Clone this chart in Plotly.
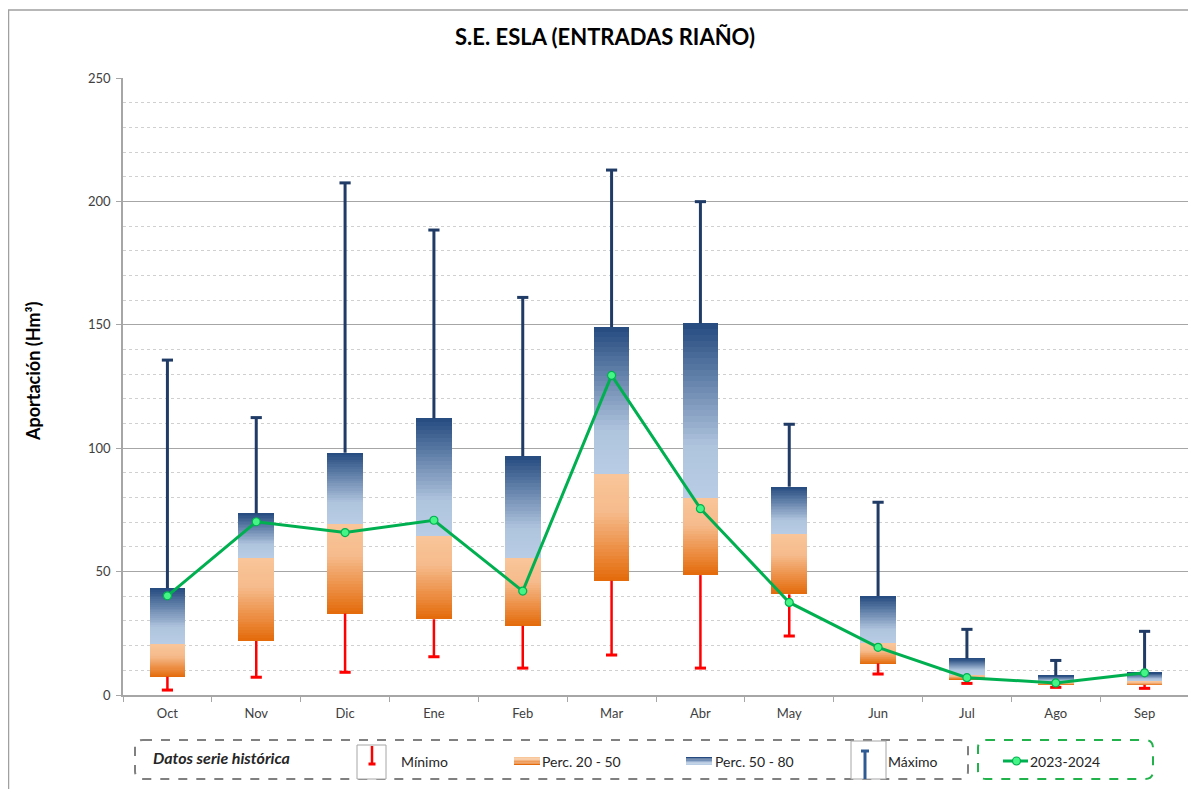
import plotly.graph_objects as go

# ---------------- data ----------------
months = ['Oct', 'Nov', 'Dic', 'Ene', 'Feb', 'Mar', 'Abr', 'May', 'Jun', 'Jul', 'Ago', 'Sep']
minimo = [2.0, 7.2, 9.2, 15.5, 10.9, 16.2, 10.9, 23.9, 8.5, 4.7, 3.1, 2.7]
perc20 = [7.4, 21.9, 33.0, 30.7, 28.0, 46.3, 48.6, 40.8, 12.8, 6.4, 4.3, 4.1]
perc50 = [20.7, 55.6, 69.4, 64.6, 55.4, 89.5, 80.0, 65.2, 20.9, 8.5, 5.3, 5.7]
perc80 = [43.3, 73.6, 98.2, 112.1, 96.8, 149.1, 150.6, 84.4, 40.1, 14.8, 7.8, 9.0]
maximo = [135.7, 112.4, 207.5, 188.4, 161.1, 212.7, 199.9, 109.7, 78.1, 26.6, 14.0, 25.8]
actual = [40.2, 70.2, 65.8, 70.8, 42.1, 129.5, 75.5, 37.5, 19.3, 7.0, 4.9, 9.0]

y_ticks = [0, 50, 100, 150, 200, 250]
title_text = 'S.E. ESLA (ENTRADAS RIAÑO)'
y_title = 'Aportación (Hm³)'

FONT = 'Lato'
OFF = 8  # page body margin
W, H = 1196 - OFF, 789 - OFF
L, R, T, B = 123, 1189, 78, 695  # plot area in screen pixels


def hex2rgb(h):
    h = h.lstrip('#')
    return tuple(int(h[i:i + 2], 16) for i in (0, 2, 4))


def grad(stops, t):
    for (t0, c0), (t1, c1) in zip(stops[:-1], stops[1:]):
        if t0 <= t <= t1:
            f = (t - t0) / (t1 - t0) if t1 > t0 else 0
            a, b = hex2rgb(c0), hex2rgb(c1)
            return 'rgb(%d,%d,%d)' % tuple(round(a[i] + (b[i] - a[i]) * f) for i in range(3))
    return stops[-1][1]


orange_stops = [(0, '#E46A0A'), (0.65, '#F6BB8C'), (1, '#F9C69A')]
blue_stops = [(0, '#B9CDE5'), (0.3, '#AEC3DD'), (1, '#244A7F')]

fig = go.Figure()

N = 30
BW = 0.4


def add_gradient(lo, hi, stops):
    for k in range(N):
        t0, t1 = k / N, (k + 1) / N
        base = [a + (b - a) * t0 for a, b in zip(lo, hi)]
        ext = 1.6 if k < N - 1 else 1.0
        hgt = [(b - a) * (t1 - t0) * ext for a, b in zip(lo, hi)]
        fig.add_trace(go.Bar(x=months, y=hgt, base=base, width=BW,
                             marker=dict(color=grad(stops, (t0 + t1) / 2), line=dict(width=0)),
                             showlegend=False, hoverinfo='skip'))


add_gradient(perc20, perc50, orange_stops)
add_gradient(perc50, perc80, blue_stops)


def whisker_xy(lo, hi):
    xs, ys = [], []
    for m, a, b in zip(months, lo, hi):
        xs += [m, m, None]
        ys += [a, b, None]
    return xs, ys


xs, ys = whisker_xy(perc80, maximo)
fig.add_trace(go.Scatter(x=xs, y=ys, mode='lines', line=dict(color='#1F3B66', width=3),
                         showlegend=False, hoverinfo='skip'))
fig.add_trace(go.Scatter(x=months, y=maximo, mode='markers',
                         marker=dict(symbol='line-ew', size=8, line=dict(color='#1F3B66', width=3)),
                         showlegend=False, hoverinfo='skip'))
xs, ys = whisker_xy(minimo, perc20)
fig.add_trace(go.Scatter(x=xs, y=ys, mode='lines', line=dict(color='#FF0000', width=2.5),
                         showlegend=False, hoverinfo='skip'))
fig.add_trace(go.Scatter(x=months, y=minimo, mode='markers',
                         marker=dict(symbol='line-ew', size=8, line=dict(color='#FF0000', width=3)),
                         showlegend=False, hoverinfo='skip'))

fig.add_trace(go.Scatter(x=months, y=actual, mode='lines+markers',
                         line=dict(color='#00B050', width=3),
                         marker=dict(size=8, color='#45F585', line=dict(color='#00B050', width=1.2)),
                         showlegend=False, name='2023-2024'))


# ---------------- legend / decorations (screen pixel -> paper) ----------------
def X(px):
    return (px - L) / (R - L)


def Y(py):
    return (B - py) / (B - T)


shapes = []


def rrect(x0, y0, x1, y1, r, color, dash):
    rx, ry = r / (R - L), r / (B - T)
    a0, a1, b0, b1 = X(x0), X(x1), Y(y1), Y(y0)
    p = (f'M {a0 + rx},{b1} L {a1 - rx},{b1} Q {a1},{b1} {a1},{b1 - ry} '
         f'L {a1},{b0 + ry} Q {a1},{b0} {a1 - rx},{b0} L {a0 + rx},{b0} '
         f'Q {a0},{b0} {a0},{b0 + ry} L {a0},{b1 - ry} Q {a0},{b1} {a0 + rx},{b1} Z')
    shapes.append(dict(type='path', xref='paper', yref='paper', path=p,
                       line=dict(color=color, width=2, dash=dash)))


def line(x0, y0, x1, y1, color, width):
    shapes.append(dict(type='line', xref='paper', yref='paper', x0=X(x0), y0=Y(y0), x1=X(x1), y1=Y(y1),
                       line=dict(color=color, width=width)))


def rect(x0, y0, x1, y1, fill, lcolor=None, lw=0):
    shapes.append(dict(type='rect', xref='paper', yref='paper', x0=X(x0), y0=Y(y0), x1=X(x1), y1=Y(y1),
                       fillcolor=fill, line=dict(color=lcolor or fill, width=lw)))


rect(8.5, 10, 1220, 810, 'rgba(0,0,0,0)', '#A0A0A0', 1.5)

rrect(135, 740, 968, 779, 8, '#808080', 'dash')
rrect(978, 740, 1153, 779, 8, '#22B24C', 'dash')

rect(357, 745, 386, 779, 'white', '#A6A6A6', 1)
line(372, 746, 372, 764, '#FF0000', 2.5)
line(368.5, 764, 375.5, 764, '#FF0000', 3)
rect(851, 741, 886, 779, 'white', '#A6A6A6', 1)
line(865, 751, 865, 779, '#2E5B94', 3)
line(861, 751, 869, 751, '#2E5B94', 3)
for i in range(6):
    t = i / 5
    y0 = 765 - i * 8 / 6
    y1 = 765 - (i + 1) * 8 / 6
    rect(514, y0, 540, y1, grad(orange_stops, t))
    rect(686, y0, 712, y1, grad(blue_stops, t))
line(1003, 761, 1028, 761, '#00B050', 3)
shapes.append(dict(type='circle', xref='paper', yref='paper',
                   x0=X(1012.5), x1=X(1020.5), y0=Y(765), y1=Y(757),
                   fillcolor='#45F585', line=dict(color='#00B050', width=1.2)))

ann = []


def text(px, py, s, size=14, anchor='left'):
    ann.append(dict(x=X(px), y=Y(py), xref='paper', yref='paper', text=s, showarrow=False,
                    xanchor=anchor, yanchor='middle', font=dict(family=FONT, size=size, color='#262626')))


text(151, 757, '<b><i>Datos serie histórica</i></b>', 16)
text(399, 761, 'Mínimo')
text(540, 761, 'Perc. 20 - 50')
text(713, 761, 'Perc. 50 - 80')
text(886, 761, 'Máximo')
text(1028, 761, '2023-2024')
ann.append(dict(x=X(33), y=Y(372), xref='paper', yref='paper', text='<b>' + y_title + '</b>',
                showarrow=False, textangle=-90, xanchor='center', yanchor='middle',
                font=dict(family=FONT, size=18, color='#000000')))

fig.update_layout(
    width=W, height=H,
    margin=dict(l=L - OFF, r=1196 - R, t=T - OFF, b=789 - B),
    paper_bgcolor='white', plot_bgcolor='white',
    barmode='overlay', bargap=0,
    title=dict(text='<b>' + title_text + '</b>', x=(605 - OFF) / W, xanchor='center',
               y=1 - (37 - OFF) / H, yanchor='middle', yref='container',
               font=dict(family=FONT, size=22, color='#000000')),
    font=dict(family=FONT, size=13, color='#404040'),
    shapes=shapes, annotations=ann, showlegend=False,
    xaxis=dict(type='category', categoryorder='array', categoryarray=months,
               range=[-0.5, 11.5], showgrid=False, showline=True, linecolor='#A6A6A6', linewidth=1.5,
               ticks='outside', tickson='boundaries', ticklen=5, tickcolor='#A6A6A6',
               ticklabelstandoff=6,
               tickfont=dict(family=FONT, size=13, color='#404040'), zeroline=False, fixedrange=True),
    yaxis=dict(range=[0, 250], tickvals=y_ticks, showgrid=True, gridcolor='#A6A6A6', gridwidth=1.2,
               showline=True, linecolor='#A6A6A6', linewidth=1.5, ticks='outside', ticklen=5,
               tickcolor='#A6A6A6', zeroline=False, ticklabelstandoff=3,
               tickfont=dict(family=FONT, size=13, color='#404040'),
               minor=dict(dtick=10, showgrid=True, gridcolor='#D0D0D0', griddash='dot', gridwidth=1)),
)

fig.write_html('out.html')
